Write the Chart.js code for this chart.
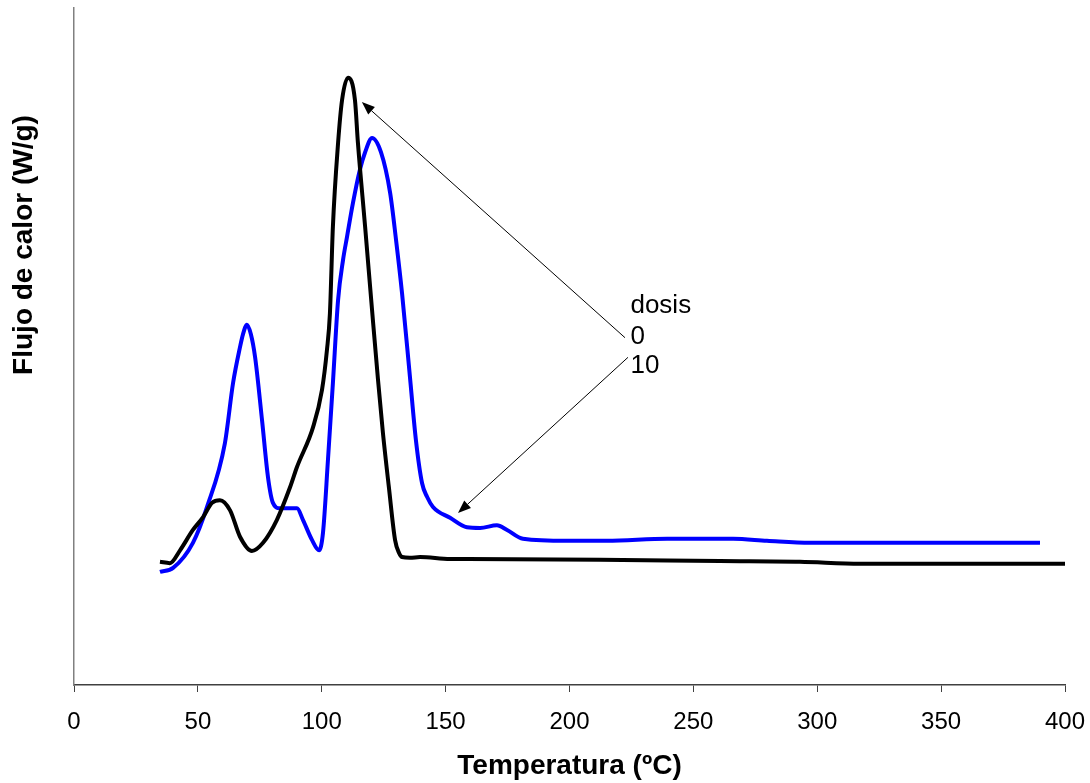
<!DOCTYPE html>
<html>
<head>
<meta charset="utf-8">
<script src="https://cdn.jsdelivr.net/npm/chart.js@4.4.1/dist/chart.umd.min.js"></script>
<style>
  html, body { margin: 0; padding: 0; background: #ffffff; }
  #wrap { width: 1090px; height: 783px; }
</style>
</head>
<body>
<div id="wrap"><canvas id="dscChart" width="1090" height="783"></canvas></div>
<script>
// Temperatura (ºC) y flujo de calor (unidades relativas) para cada dosis
const tempDosis0 = [34.7, 38.7, 42.8, 48.0, 52.1, 55.7, 58.9, 63.0, 67.0, 71.8, 76.3, 81.9, 87.2, 90.0,
  96.5, 100.1, 102.1, 103.3, 104.5, 106.6, 108.2, 110.6, 113.4, 114.6, 117.5, 120.3, 122.7, 124.7,
  127.1, 129.6, 131.2, 132.4, 135.6, 139.7, 151.8, 158.6, 212.3, 260.7, 293.0, 317.3, 400];
const flujoDosis0 = [1.82, 1.80, 1.99, 2.29, 2.48, 2.69, 2.73, 2.58, 2.19, 1.98, 2.10, 2.44, 2.92, 3.22,
  3.81, 4.36, 4.95, 5.49, 6.77, 8.01, 8.64, 8.97, 8.64, 8.01, 6.77, 5.54, 4.51, 3.72,
  2.92, 2.14, 1.95, 1.89, 1.88, 1.89, 1.86, 1.86, 1.85, 1.83, 1.82, 1.79, 1.79];

const tempDosis10 = [34.7, 40.0, 48.0, 53.7, 60.9, 64.2, 67.0, 68.2, 69.8, 71.4, 73.1, 75.9, 78.3, 80.3,
  83.1, 90.0, 92.4, 96.1, 98.9, 100.5, 102.5, 104.5, 106.6, 108.6, 110.2, 112.6, 115.4, 117.5, 120.3,
  123.9, 127.6, 130.0, 132.4, 135.6, 138.0, 140.5, 142.5, 144.9, 151.8, 158.6, 163.9, 170.7, 174.8,
  181.2, 199.0, 215.1, 239.4, 266.0, 279.7, 297.1, 389.9];
const flujoDosis10 = [1.67, 1.73, 2.10, 2.63, 3.57, 4.46, 4.99, 5.18, 5.32, 5.18, 4.84, 3.91, 3.07, 2.69,
  2.61, 2.61, 2.44, 2.14, 1.99, 2.25, 3.32, 4.46, 5.69, 6.28, 6.62, 7.12, 7.61, 7.87, 8.08,
  7.87, 7.27, 6.57, 5.79, 4.55, 3.62, 2.98, 2.78, 2.63, 2.47, 2.33, 2.32, 2.36, 2.29,
  2.16, 2.13, 2.13, 2.16, 2.16, 2.13, 2.10, 2.10];

const xTicks = [0, 50, 100, 150, 200, 250, 300, 350, 400];

// Leyenda con flechas: texto y extremos en unidades de datos
const legendLines = ['dosis', '0', '10'];
const legendAt = { x: 224.6, y: [5.49, 5.04, 4.61] };
const arrows = [
  { from: [222.4, 5.13], to: [116.2, 8.61] },
  { from: [223.6, 4.84], to: [155.0, 2.54] }
];

const FONT = 'Arial, "Liberation Sans", sans-serif';

function toPoints(xs, ys) {
  return xs.map((x, i) => ({ x: x, y: ys[i] }));
}

const annotations = {
  id: 'annotations',
  afterDatasetsDraw(chart) {
    const ctx = chart.ctx;
    const sx = chart.scales.x, sy = chart.scales.y;
    ctx.save();

    // flechas
    ctx.strokeStyle = '#000';
    ctx.fillStyle = '#000';
    ctx.lineWidth = 1;
    arrows.forEach(a => {
      const x1 = sx.getPixelForValue(a.from[0]), y1 = sy.getPixelForValue(a.from[1]);
      const x2 = sx.getPixelForValue(a.to[0]), y2 = sy.getPixelForValue(a.to[1]);
      const ang = Math.atan2(y2 - y1, x2 - x1);
      const len = 13, half = 5;
      const bx = x2 - len * Math.cos(ang), by = y2 - len * Math.sin(ang);
      ctx.beginPath();
      ctx.moveTo(x1, y1);
      ctx.lineTo(bx, by);
      ctx.stroke();
      ctx.beginPath();
      ctx.moveTo(x2, y2);
      ctx.lineTo(bx + half * Math.sin(ang), by - half * Math.cos(ang));
      ctx.lineTo(bx - half * Math.sin(ang), by + half * Math.cos(ang));
      ctx.closePath();
      ctx.fill();
    });

    // texto de la leyenda
    ctx.font = '26px ' + FONT;
    ctx.textAlign = 'left';
    ctx.textBaseline = 'alphabetic';
    legendLines.forEach((t, i) => {
      ctx.fillText(t, sx.getPixelForValue(legendAt.x), sy.getPixelForValue(legendAt.y[i]));
    });

    // titulo del eje Y
    ctx.font = 'bold 28px ' + FONT;
    ctx.textAlign = 'center';
    ctx.textBaseline = 'middle';
    ctx.translate(24, 245);
    ctx.rotate(-Math.PI / 2);
    ctx.fillText('Flujo de calor (W/g)', 0, 0);
    ctx.restore();
  }
};

new Chart(document.getElementById('dscChart').getContext('2d'), {
  type: 'line',
  data: {
    datasets: [
      {
        label: '0',
        data: toPoints(tempDosis0, flujoDosis0),
        borderColor: '#000000',
        borderWidth: 4,
        pointRadius: 0,
        cubicInterpolationMode: 'monotone',
        fill: false
      },
      {
        label: '10',
        data: toPoints(tempDosis10, flujoDosis10),
        borderColor: '#0000ff',
        borderWidth: 4,
        pointRadius: 0,
        cubicInterpolationMode: 'monotone',
        fill: false
      }
    ]
  },
  options: {
    responsive: false,
    animation: false,
    layout: { padding: { left: 0, right: 25, top: 8, bottom: 0 } },
    plugins: {
      legend: { display: false },
      tooltip: { enabled: false }
    },
    scales: {
      x: {
        type: 'linear',
        min: 0,
        max: 400,
        afterBuildTicks: scale => { scale.ticks = xTicks.map(v => ({ value: v })); },
        afterFit: scale => {
          scale.height = 98;
          scale.paddingLeft = 0;
          scale.paddingRight = 0;
        },
        border: { display: true, color: '#404040', width: 1.5 },
        grid: { display: true, drawOnChartArea: false, drawTicks: true, tickLength: 7, color: '#404040' },
        ticks: { color: '#000', font: { family: FONT, size: 24 }, padding: 16, maxRotation: 0 },
        title: {
          display: true,
          text: 'Temperatura (ºC)',
          color: '#000',
          font: { family: FONT, size: 28, weight: 'bold' },
          padding: { top: 4, bottom: 0 }
        }
      },
      y: {
        type: 'linear',
        min: 0,
        max: 10,
        afterFit: scale => { scale.width = 74; },
        border: { display: true, color: '#808080', width: 1.5 },
        grid: { display: false },
        ticks: { display: false }
      }
    }
  },
  plugins: [annotations]
});
</script>
</body>
</html>
